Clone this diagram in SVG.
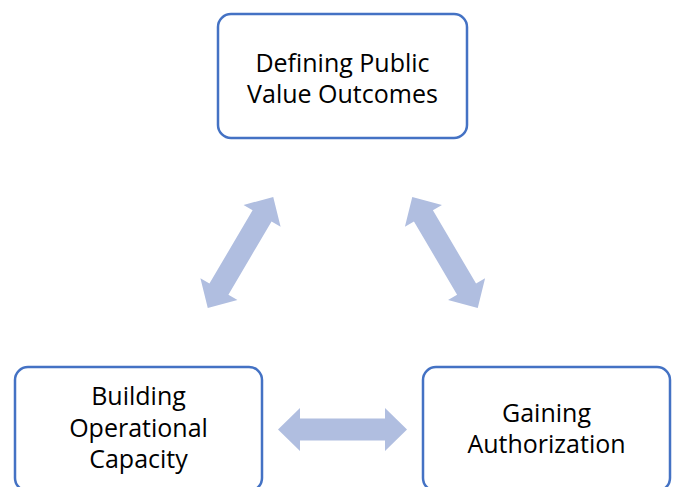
<svg xmlns="http://www.w3.org/2000/svg" width="676" height="487" viewBox="0 0 676 487">
  <defs>
    <style>
      .box { fill: #ffffff; stroke: #4472C4; stroke-width: 2.5; }
      .label { font-family: "Open Sans", "Noto Sans", sans-serif; font-size: 25px; fill: #000000; text-anchor: middle; }
      .dbl { fill: #B0BEE0; }
    </style>
    <!-- double-headed block arrow centred on the origin, pointing along x -->
    <path id="dblArrow" class="dbl" d="M-64.5,0 L-42.5,-21.5 L-42.5,-11 L42.5,-11 L42.5,-21.5 L64.5,0 L42.5,21.5 L42.5,11 L-42.5,11 L-42.5,21.5 Z"/>
  </defs>
  <rect width="676" height="487" fill="#ffffff"/>

  <g id="connectors">
    <use href="#dblArrow" transform="translate(240.5,252.5) rotate(-59.5)"/>
    <use href="#dblArrow" transform="translate(445,252.5) rotate(59.5)"/>
    <use href="#dblArrow" transform="translate(342.5,429.5)"/>
  </g>

  <g id="node-outcomes">
    <rect class="box" x="218" y="14" width="249" height="124" rx="13"/>
    <text class="label" x="342.5" y="72">Defining Public</text>
    <text class="label" x="342.5" y="103">Value Outcomes</text>
  </g>

  <g id="node-capacity">
    <rect class="box" x="15" y="367" width="247" height="124" rx="13"/>
    <text class="label" x="138.5" y="405">Building</text>
    <text class="label" x="138.5" y="436.5">Operational</text>
    <text class="label" x="138.5" y="468">Capacity</text>
  </g>

  <g id="node-authorization">
    <rect class="box" x="423" y="367" width="247" height="124" rx="13"/>
    <text class="label" x="546.5" y="422">Gaining</text>
    <text class="label" x="546.5" y="453">Authorization</text>
  </g>
</svg>
